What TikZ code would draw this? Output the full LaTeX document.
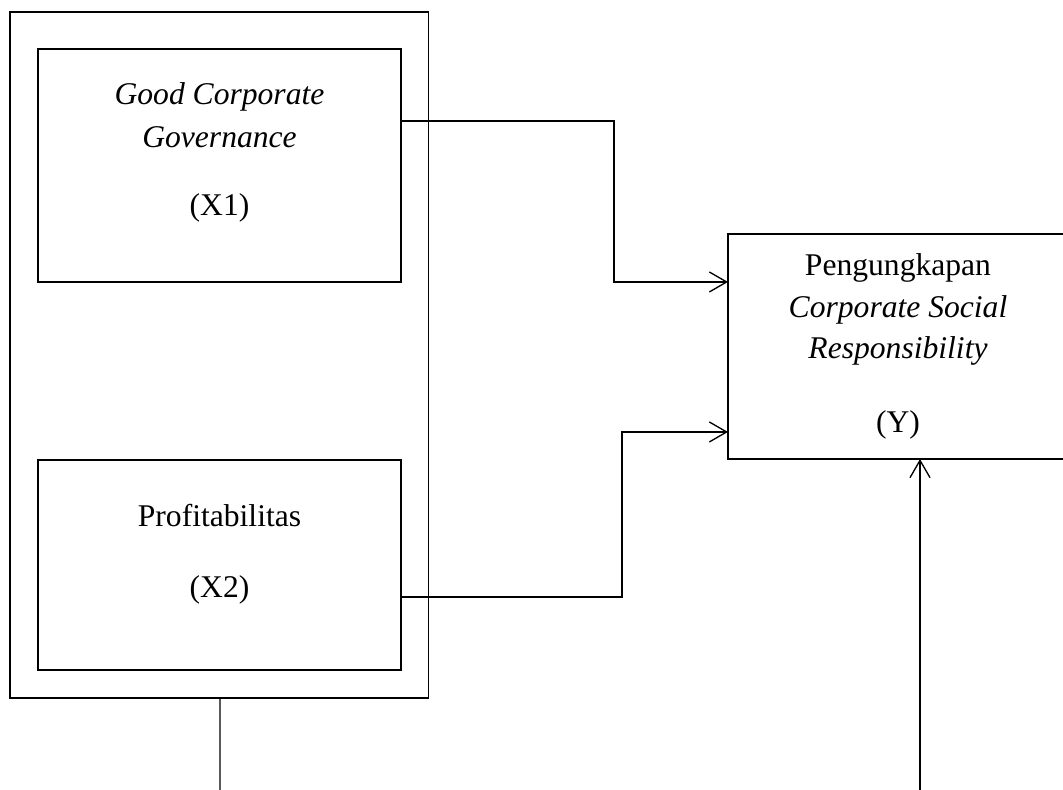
\documentclass[tikz,border=0pt]{standalone}
\usepackage{fontspec}
\setmainfont{Liberation Serif}
\usetikzlibrary{arrows.meta}
\begin{document}
\begin{tikzpicture}[x=0.75pt,y=-0.75pt,
  box/.style={draw, line width=1.5pt, inner sep=0pt, outer sep=0pt, rectangle},
  frame/.style={draw, line width=1pt, inner sep=0pt, outer sep=0pt, rectangle},
  txt/.style={anchor=base, font=\fontsize{23.7}{28}\selectfont, inner sep=0pt},
  conn/.style={line width=1pt},
  arr/.style={conn, -{Straight Barb[length=13pt,width=15pt,line width=1pt]}}]
\useasboundingbox (0,0) rectangle (1063,789);
\clip (0,0) rectangle (1063,789);
% boxes
\node[frame, minimum width=313.9pt, minimum height=514.5pt] (outer) at (219.25,355) {};
\node[box, minimum width=272.25pt, minimum height=174.75pt] (x1) at (219.5,165.5) {};
\node[box, minimum width=272.25pt, minimum height=157.5pt] (x2) at (219.5,565) {};
\node[box, minimum width=255pt, minimum height=168.75pt] (y) at (898,346.5) {};
% texts
\node[txt] (x1a) at (219.5,104) {\itshape Good Corporate};
\node[txt] (x1b) at (219.5,147) {\itshape Governance};
\node[txt] (x1c) at (219.5,215) {(X1)};
\node[txt] (x2a) at (219.5,526) {Profitabilitas};
\node[txt] (x2b) at (219.5,597) {(X2)};
\node[txt] (ya) at (898,275) {Pengungkapan};
\node[txt] (yb) at (898,317) {\itshape Corporate Social};
\node[txt] (yc) at (898,358) {\itshape Responsibility};
\node[txt] (yd) at (898,432) {(Y)};
% connectors
\draw[arr] ([yshift=33.4pt]x1.east) -- ++(213,0) |- ([yshift=48.4pt]y.west);
\draw[arr] ([yshift=-24pt]x2.east) -- ++(221,0) |- ([yshift=-64.1pt]y.west);
\coordinate (b1) at (220,795);
\coordinate (b2) at (920,795);
\draw[conn] ([xshift=0.6pt]outer.south) -- (b1);
\draw[arr] (b2) -- ([xshift=16.5pt]y.south);
\end{tikzpicture}
\end{document}
